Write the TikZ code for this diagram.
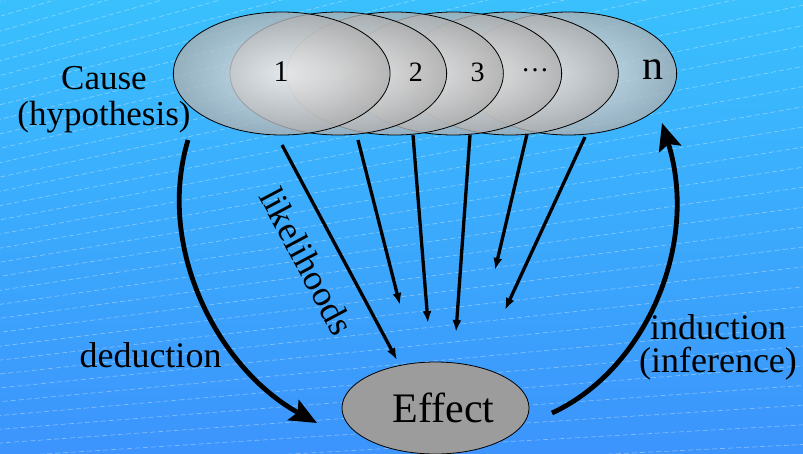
\documentclass[tikz,border=0pt]{standalone}
\usepackage{fontspec}
\setmainfont{Liberation Serif}
\newfontfamily\tnr{Liberation Serif}
\usetikzlibrary{shapes.geometric,arrows.meta}
\definecolor{bgtop}{RGB}{58,192,253}
\definecolor{bgbot}{RGB}{60,148,252}
\definecolor{effgray}{RGB}{156,156,156}
\begin{document}
\begin{tikzpicture}[x=1pt,y=-1pt,
  causeell/.style={ellipse, draw=black, line width=0.8pt, minimum width=216.7pt,
    minimum height=123pt, inner sep=0pt, shade, inner color=white!94!black,
    outer color=black!32, fill opacity=0.78, text opacity=1},
  lkarrow/.style={line width=3.3pt, -{Latex[length=12pt,width=9pt]}},
  bigarrow/.style={line width=4.8pt, -{Stealth[length=27pt,width=23pt,inset=5pt]}},
  digit/.style={inner sep=0pt, font=\tnr\fontsize{28}{28}\selectfont},
  bigtxt/.style={inner sep=0pt, font=\tnr\fontsize{36}{33}\selectfont, align=center},
  bgline/.style={white, opacity=0.35, line width=0.7pt, dash pattern=on 5pt off 3pt}]
\useasboundingbox (0,0) rectangle (803,453);
\shade[top color=bgtop, bottom color=bgbot] (0,0) rectangle (803,453);
\begin{scope}
  \clip (0,0) rectangle (803,453);
  \foreach \t in {2.0,2.42,...,18.6}
    \draw[bgline] (-1869,577) -- ++(-\t:3000);
\end{scope}
% cause ellipses, back to front
\node[causeell] (c6) at (568.3,73.5) {};
\node[causeell] (c5) at (510,73.5) {};
\node[causeell] (c4) at (453.3,73.5) {};
\node[causeell] (c3) at (395,73.5) {};
\node[causeell] (c2) at (338.3,73.5) {};
\node[causeell] (c1) at (281.7,73.5) {};
\node[digit, font=\tnr\fontsize{30}{30}\selectfont] (l1) at (281,72) {1};
\node[digit] (l2) at (415.8,72) {2};
\node[digit] (l3) at (477.5,72) {3};
\node[digit] (l4) at (535,70) {…};
\node[digit, font=\tnr\fontsize{42}{42}\selectfont] (ln) at (653,70) {n};
% effect
\node[ellipse, draw=black, line width=0.8pt, fill=effgray, minimum width=187pt,
  minimum height=92pt, inner sep=0pt, font=\tnr\fontsize{42}{42}\selectfont]
  (eff) at (435.5,408) {\hspace*{16pt}Effect};
% texts
\node[bigtxt, font=\tnr\fontsize{35}{36}\selectfont] (cause) at (104,99.5) {Cause\\(hypothesis)};
\node[bigtxt, anchor=base] (ded) at (150.5,367) {deduction};
\node[bigtxt] (ind) at (718,347) {induction\\(inference)};
\node[bigtxt, rotate=-62] (lik) at (307,261) {likelihoods};
% thin arrows
\coordinate (s1) at (282,145); \coordinate (e1) at (397,360);
\coordinate (s2) at (358,140); \coordinate (e2) at (400,305);
\coordinate (s3) at (413,135); \coordinate (e3) at (428,323);
\coordinate (s4) at (470,135); \coordinate (e4) at (456,332);
\coordinate (s5) at (527,134); \coordinate (e5) at (495,270);
\coordinate (s6) at (585,137); \coordinate (e6) at (505,310);
\foreach \i in {1,...,6} \draw[lkarrow] (s\i) -- (e\i);
% thick arrows
\coordinate (d0) at (188,140); \coordinate (d1) at (317,423);
\coordinate (dc1) at (155,250); \coordinate (dc2) at (220,370);
\draw[bigarrow] (d0) .. controls (dc1) and (dc2) .. (d1);
\coordinate (i0) at (552,413); \coordinate (i1) at (662,123);
\coordinate (ic1) at (645,370); \coordinate (ic2) at (700,245);
\draw[bigarrow] (i0) .. controls (ic1) and (ic2) .. (i1);
\end{tikzpicture}
\end{document}
